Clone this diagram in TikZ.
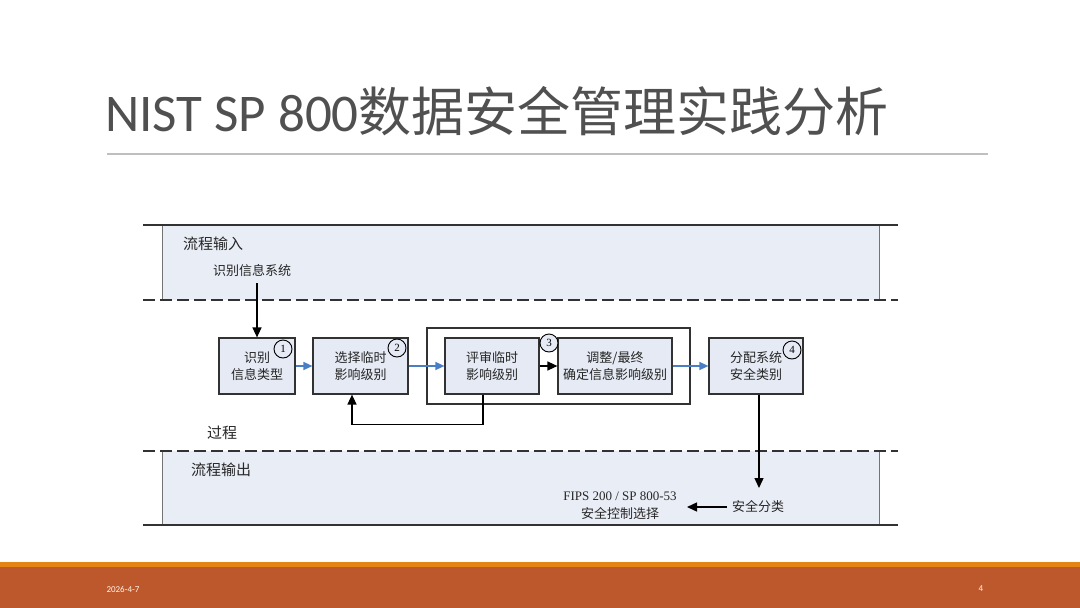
\documentclass[tikz,border=0pt]{standalone}
\usepackage{fontspec}
\setmainfont{Liberation Serif}
\newfontfamily\cjkfont{Noto Sans CJK SC}
\newfontfamily\calfont{Carlito}
\usetikzlibrary{arrows.meta}
\definecolor{bandfill}{RGB}{233,237,246}
\definecolor{boxfill}{RGB}{229,234,244}
\definecolor{lineclr}{RGB}{50,50,50}
\definecolor{blueclr}{RGB}{74,126,196}
\definecolor{titleclr}{RGB}{80,80,80}
\definecolor{ruleclr}{RGB}{191,191,191}
\definecolor{orangelt}{RGB}{228,131,22}
\definecolor{orangedk}{RGB}{189,88,44}
\begin{document}
\begin{tikzpicture}[x=1pt,y=-1pt,
  stepbox/.style={draw=lineclr, fill=boxfill, line width=1.2pt, minimum height=56pt, inner sep=0pt, align=center, text=black!85, font=\cjkfont\fontsize{13}{17}\selectfont},
  numc/.style={circle, draw=black, line width=0.9pt, minimum size=18pt, inner sep=0pt, font=\fontsize{11}{11}\selectfont},
  lbl/.style={inner sep=0pt, text=black!85, font=\cjkfont\fontsize{13}{17}\selectfont},
  biglbl/.style={inner sep=0pt, text=black!85, font=\cjkfont\fontsize{15}{18}\selectfont},
  arr/.style={line width=1.4pt, draw=black, -{Triangle[length=10pt,width=9pt]}},
  barr/.style={line width=1.4pt, draw=blueclr, -{Triangle[length=9pt,width=8pt]}},
  bandline/.style={draw=lineclr, line width=1.3pt},
  dashline/.style={draw=lineclr, line width=1.8pt, dash pattern=on 12pt off 5pt}
]
\useasboundingbox (0,0) rectangle (1080,608);
\fill[white] (0,0) rectangle (1080,608);

% title
\node[anchor=base west, inner sep=0pt, text=titleclr] (title) at (105,131)
  {\fontsize{53}{60}\selectfont\calfont NIST SP 800\cjkfont 数据安全管理实践分析};
\draw[ruleclr, line width=1.3pt] (107,154) -- (988,154);

% input band
\fill[bandfill] (162,225) rectangle (879,300);
\draw[draw=black!55, line width=1pt] (162,225) -- (162,300) (879,225) -- (879,300);
\draw[bandline] (143,225) -- (898,225);
\draw[dashline] (143,300) -- (898,300);
\node[biglbl, anchor=west] (inlbl) at (183,244) {流程输入};
\node[lbl] (sysin) at (252,271) {识别信息系统};

% output band
\fill[bandfill] (162,451) rectangle (879,525);
\draw[draw=black!55, line width=1pt] (162,451) -- (162,525) (879,451) -- (879,525);
\draw[bandline] (143,525) -- (898,525);
\draw[dashline] (143,451) -- (898,451);
\node[biglbl, anchor=west] (outlbl) at (191,470) {流程输出};
\node[biglbl, anchor=west] (proc) at (207,433) {过程};

% outer group box
\node[draw=lineclr, line width=1.2pt, minimum width=263pt, minimum height=76pt, inner sep=0pt] (grp) at (558.5,366) {};

% process boxes
\node[stepbox, minimum width=76pt] (b1) at (257,366) {识别\\信息类型};
\node[stepbox, minimum width=95pt] (b2) at (360.5,366) {选择临时\\影响级别};
\node[stepbox, minimum width=94pt] (b3) at (492,366) {评审临时\\影响级别};
\node[stepbox, minimum width=114pt] (b5) at (615,366) {调整/最终\\确定信息影响级别};
\node[stepbox, minimum width=94pt] (b4) at (756,366) {分配系统\\安全类别};

% number circles
\node[numc] (n1) at (283,349) {1};
\node[numc] (n2) at (397,348) {2};
\node[numc, fill=boxfill] (n3) at (549,343) {3};
\node[numc] (n4) at (792,350) {4};

% connectors
\draw[arr] (b1.north |- sysin.south) ++(0,6) -- (b1.north);
\draw[barr] (b1.east) -- (b2.west);
\draw[barr] (b2.east) -- (b3.west);
\draw[arr] (b3.east) -- (b5.west);
\draw[barr] (b5.east) -- (b4.west);
\draw[arr] ([xshift=-9pt]b3.south) -- ++(0,30) -| ([xshift=-8.5pt]b2.south);

% outputs
\node[inner sep=0pt, align=center, text=black!85, font=\fontsize{13}{18}\selectfont] (fips) at (620,506)
  {FIPS 200 / SP 800-53\\{\cjkfont 安全控制选择}};
\node[lbl, anchor=west] (cat) at (732,507) {安全分类};
\coordinate (catend) at (759,488);
\draw[arr] ([xshift=3pt]b4.south) -- (catend);
\coordinate (fipsend) at (687,507);
\draw[arr] ([xshift=-5pt]cat.west) -- (fipsend);

% footer
\fill[orangelt] (0,562) rectangle (1080,567);
\fill[orangedk] (0,567) rectangle (1080,608);
\node[inner sep=0pt, text=white!92!orange, font=\calfont\fontsize{9}{10}\selectfont] (date) at (123,589) {2026-4-7};
\node[inner sep=0pt, text=white!92!orange, font=\calfont\fontsize{9}{10}\selectfont] (page) at (981,589) {4};
\end{tikzpicture}
\end{document}
